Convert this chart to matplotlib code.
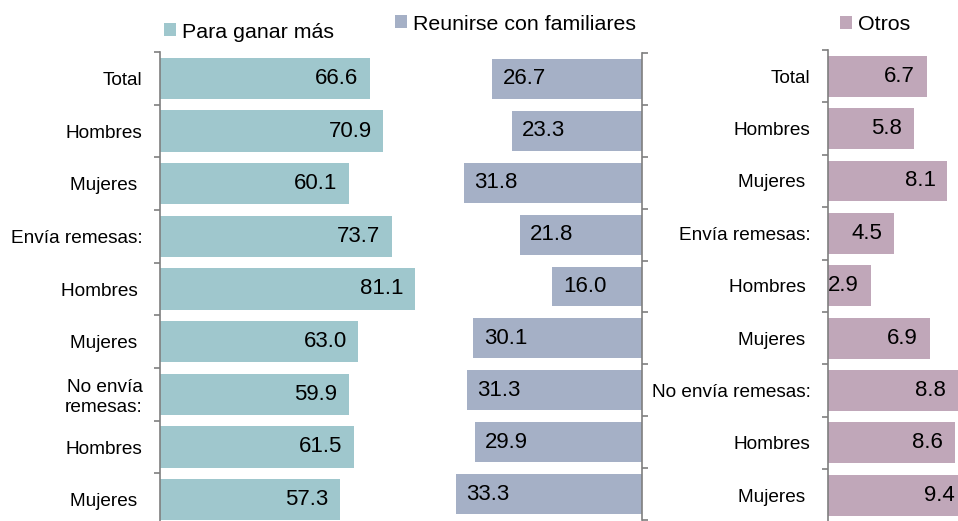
import numpy as np
import matplotlib.pyplot as plt

plt.rcParams['font.family'] = ['Liberation Sans', 'DejaVu Sans']

CATEGORIAS_IZQ = ["Total", "Hombres", "Mujeres ", "Envía remesas:", "Hombres ",
                  "Mujeres ", "No envía\nremesas:", "Hombres", "Mujeres "]
CATEGORIAS_DER = ["Total", "Hombres", "Mujeres ", "Envía remesas:", "Hombres ",
                  "Mujeres ", "No envía remesas:", "Hombres", "Mujeres "]
PARA_GANAR_MAS = [66.6, 70.9, 60.1, 73.7, 81.1, 63.0, 59.9, 61.5, 57.3]
REUNIRSE = [26.7, 23.3, 31.8, 21.8, 16.0, 30.1, 31.3, 29.9, 33.3]
OTROS = [6.7, 5.8, 8.1, 4.5, 2.9, 6.9, 8.8, 8.6, 9.4]

COLOR_GANAR = '#9FC7CD'
COLOR_REUNIR = '#A5B0C6'
COLOR_OTROS = '#C0A7B9'
COLOR_EJE = '#7F7F7F'

W, H = 958, 521
fig = plt.figure(figsize=(W / 100, H / 100), dpi=100)


def px_axes(left, top, right, bottom):
    return fig.add_axes([left / W, 1 - bottom / H, (right - left) / W, (bottom - top) / H])


def estilo_eje(ax, lado, etiquetas=None):
    for s in ax.spines.values():
        s.set_visible(False)
    ax.spines[lado].set_visible(True)
    ax.spines[lado].set_color(COLOR_EJE)
    ax.spines[lado].set_linewidth(1.2)
    ax.set_xticks([])
    ax.set_ylim(8.5, -0.5)
    ax.set_yticks(np.arange(-0.5, 9, 1))
    ax.set_yticklabels([])
    if lado == 'right':
        ax.yaxis.tick_right()
    ax.tick_params(axis='y', which='major', length=4.5, width=1.2, color=COLOR_EJE)
    if etiquetas is not None:
        ax.set_yticks(np.arange(len(etiquetas)), minor=True)
        ax.set_yticklabels(etiquetas, minor=True, fontsize=13.7)
        ax.tick_params(axis='y', which='minor', length=0, pad=12.5)


y = np.arange(len(PARA_GANAR_MAS))

# panel izquierdo
ax1 = px_axes(160, 52, 450, 526)
ax1.barh(y, PARA_GANAR_MAS, height=0.78, color=COLOR_GANAR, label='Para ganar más')
ax1.set_xlim(0, 290 / 3.15)
estilo_eje(ax1, 'left', CATEGORIAS_IZQ)
for i, v in enumerate(PARA_GANAR_MAS):
    ax1.annotate(f"{v:.1f}", xy=(v, i), xytext=(-8.5, 0), textcoords='offset points',
                 ha='right', va='center', fontsize=16)

# panel central (invertido)
ax2 = px_axes(450, 53, 642, 520)
ax2.barh(y, REUNIRSE, height=0.77, color=COLOR_REUNIR, label='Reunirse con familiares')
ax2.set_xlim(192 / 5.6, 0)
estilo_eje(ax2, 'right')
for i, v in enumerate(REUNIRSE):
    ax2.annotate(f"{v:.1f}", xy=(v, i), xytext=(7.5, 0), textcoords='offset points',
                 ha='left', va='center', fontsize=16)

# panel derecho
ax3 = px_axes(828, 50, 970, 521.5)
ax3.barh(y, OTROS, height=0.78, color=COLOR_OTROS, label='Otros')
ax3.set_xlim(0, 142 / 14.75)
estilo_eje(ax3, 'left', CATEGORIAS_DER)
for i, v in enumerate(OTROS):
    ax3.annotate(f"{v:.1f}", xy=(v, i), xytext=(-8.5, 0), textcoords='offset points',
                 ha='right', va='center', fontsize=16)

# leyendas
for ax, (lx, ly) in [(ax1, (164, 32)), (ax2, (395, 24)), (ax3, (840, 25))]:
    ax.legend(loc='center left', bbox_to_anchor=(lx / W, 1 - ly / H),
              bbox_transform=fig.transFigure, frameon=False, fontsize=15.4,
              handlelength=0.56, handleheight=0.56, handletextpad=0.28,
              borderpad=0, borderaxespad=0)

fig.savefig('out.png', dpi=100)
